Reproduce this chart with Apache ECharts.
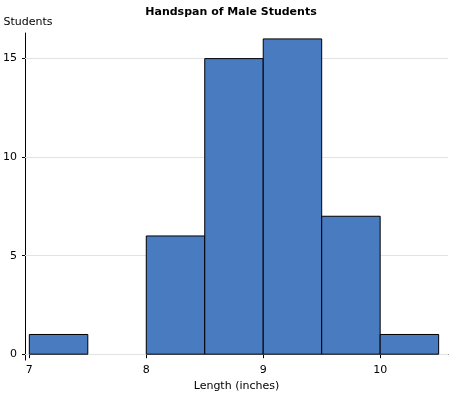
<!DOCTYPE html>
<html>
<head>
<meta charset="utf-8">
<script src="https://cdn.jsdelivr.net/npm/echarts@6/dist/echarts.min.js"></script>
<style>
  html, body { margin: 0; padding: 0; background: #fff; }
  #chart { width: 450px; height: 397px; }
</style>
</head>
<body>
<div id="chart"></div>
<script>
  // histogram bins (inches) and counts
  var binStarts = [7, 7.5, 8, 8.5, 9, 9.5, 10];
  var binWidth = 0.5;
  var counts = [1, 0, 6, 15, 16, 7, 1];
  var xTicks = [7, 8, 9, 10];
  var yTicks = [0, 5, 10, 15];

  var font = 'DejaVu Sans';
  var barData = binStarts.map(function (s, i) { return [s, s + binWidth, counts[i]]; });

  var chart = echarts.init(document.getElementById('chart'));
  chart.setOption({
    animation: false,
    title: {
      text: 'Handspan of Male Students',
      left: 226, top: 2, textAlign: 'center',
      textStyle: { fontFamily: font, fontSize: 11, fontWeight: 'bold', color: '#000' }
    },
    grid: { left: 24, right: 2, top: 33, bottom: 35 },
    xAxis: {
      type: 'value',
      min: 6.963, max: 10.58,
      name: 'Length (inches)',
      nameLocation: 'middle',
      nameGap: 19,
      nameTextStyle: { fontFamily: font, fontSize: 11, color: '#000' },
      axisLine: { lineStyle: { color: '#000', width: 1 } },
      axisTick: { customValues: xTicks, length: 4, lineStyle: { color: '#000' } },
      axisLabel: { customValues: xTicks, fontFamily: font, fontSize: 11, color: '#000', margin: 5 },
      splitLine: { show: false }
    },
    yAxis: {
      type: 'value',
      min: -0.3, max: 16.3,
      name: 'Students',
      nameLocation: 'end',
      nameGap: 5,
      nameTextStyle: { fontFamily: font, fontSize: 11, color: '#000', padding: [0, 0, 0, 6] },
      axisLine: { show: true, lineStyle: { color: '#000', width: 1 } },
      axisTick: { show: true, customValues: yTicks, length: 3, lineStyle: { color: '#000' } },
      axisLabel: { customValues: yTicks, fontFamily: font, fontSize: 11, color: '#000', margin: 8 },
      splitLine: { show: false }
    },
    series: [{
      type: 'custom',
      data: barData,
      renderItem: function (params, api) {
        if (api.value(2) === 0) return null;
        var p0 = api.coord([api.value(0), 0]);
        var p1 = api.coord([api.value(1), api.value(2)]);
        return {
          type: 'rect',
          shape: { x: p0[0], y: p1[1], width: p1[0] - p0[0], height: p0[1] - p1[1] },
          style: { fill: '#497bc0', stroke: '#000', lineWidth: 1 }
        };
      },
      markLine: {
        silent: true,
        z: 1,
        symbol: 'none',
        label: { show: false },
        lineStyle: { color: '#e3e3e3', type: 'solid', width: 1 },
        data: yTicks.map(function (v) { return { yAxis: v }; })
      }
    }]
  });
</script>
</body>
</html>
